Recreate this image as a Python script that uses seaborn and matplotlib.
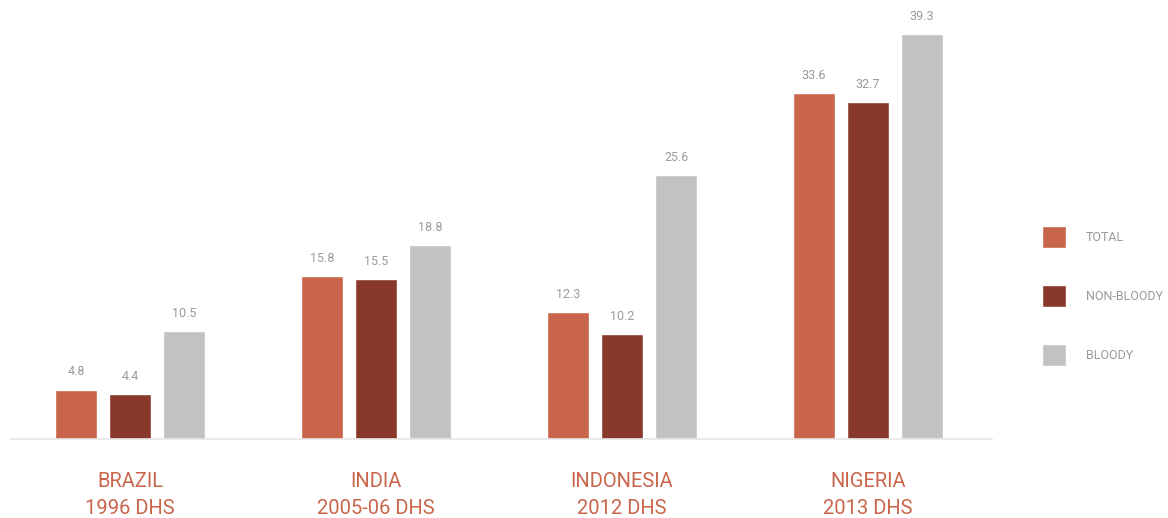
import matplotlib
matplotlib.use("Agg")
import matplotlib.pyplot as plt
import seaborn as sns
import pandas as pd
from matplotlib import font_manager

categories = ["BRAZIL\n1996 DHS", "INDIA\n2005-06 DHS", "INDONESIA\n2012 DHS", "NIGERIA\n2013 DHS"]
series_names = ["TOTAL", "NON-BLOODY", "BLOODY"]
total = [4.8, 15.8, 12.3, 33.6]
non_bloody = [4.4, 15.5, 10.2, 32.7]
bloody = [10.5, 18.8, 25.6, 39.3]
colors = ["#C8654A", "#88392A", "#C2C2C2"]

rows = []
for name, vals in zip(series_names, [total, non_bloody, bloody]):
    for c, v in zip(categories, vals):
        rows.append({"category": c, "series": name, "value": v})
df = pd.DataFrame(rows)

sns.set_style("white")
avail = {f.name for f in font_manager.fontManager.ttflist}
fam = "Liberation Sans Narrow" if "Liberation Sans Narrow" in avail else "Roboto"
plt.rcParams["font.family"] = [fam, "DejaVu Sans"]

fig = plt.figure(figsize=(11.68, 5.18), dpi=100)
ax = fig.add_axes([10 / 1168, (518 - 439) / 518, 982 / 1168, 439 / 518])

sns.barplot(data=df, x="category", y="value", hue="series", hue_order=series_names,
            order=categories, palette=colors, width=0.66, gap=0.22, ax=ax,
            saturation=1, errorbar=None, legend=True)

for cont in ax.containers:
    ax.bar_label(cont, fmt="%.1f", padding=8, color="#9a9a9a", fontsize=9)

ax.set_xlim(-0.488, 3.504)
ax.set_ylim(0, 42.6)
ax.set_xlabel("")
ax.set_ylabel("")
ax.set_yticks([])
for s in ["top", "right", "left"]:
    ax.spines[s].set_visible(False)
ax.spines["bottom"].set_color("#e6e6e6")
ax.spines["bottom"].set_linewidth(1.2)
ax.tick_params(axis="x", length=0, pad=24, labelsize=14.5, colors="#C8654A")
for lbl in ax.get_xticklabels():
    lbl.set_linespacing(1.5)

handles, labels = ax.get_legend_handles_labels()
ax.legend(handles, labels, loc="center left", bbox_to_anchor=(1031 / 1168, (518 - 296) / 518),
          bbox_transform=fig.transFigure, frameon=False, fontsize=9,
          handlelength=1.9, handleheight=2.3, handletextpad=1.6, labelspacing=3.0,
          labelcolor="#9a9a9a")

fig.savefig("out.png", dpi=100)
